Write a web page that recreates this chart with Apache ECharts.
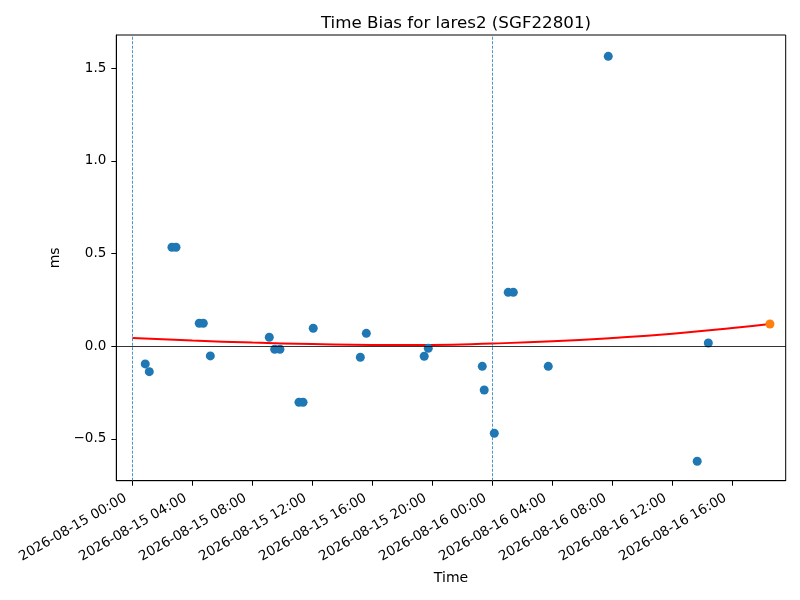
<!DOCTYPE html>
<html>
<head>
<meta charset="utf-8">
<script src="https://cdn.jsdelivr.net/npm/echarts@6/dist/echarts.min.js"></script>
<style>html,body{margin:0;padding:0;background:#fff;}#c{width:800px;height:600px;}</style>
</head>
<body>
<div id="c"></div>
<script>
// Hours since 2026-08-15 00:00 (UTC) and time bias in ms
var obsHours = [0.85, 1.12, 2.63, 2.90, 4.45, 4.72, 5.19, 9.12, 9.48, 9.83, 11.10, 11.37, 12.05, 15.19, 15.59, 19.45, 19.72, 23.32, 23.45, 24.12, 25.05, 25.39, 27.72, 31.72, 37.65, 38.39];
var obsBias  = [-0.095, -0.137, 0.534, 0.534, 0.124, 0.124, -0.052, 0.049, -0.016, -0.016, -0.302, -0.302, 0.097, -0.059, 0.070, -0.054, -0.011, -0.108, -0.236, -0.469, 0.291, 0.291, -0.108, 1.564, -0.620, 0.018];
var predHours = [42.5];
var predBias  = [0.120];
var fitHours = [0, 4, 8, 12, 16, 20, 24, 28, 32, 36, 40, 42.5];
var fitBias  = [0.045, 0.031, 0.020, 0.012, 0.007, 0.007, 0.015, 0.027, 0.045, 0.068, 0.098, 0.120];
var tickHours = [0, 4, 8, 12, 16, 20, 24, 28, 32, 36, 40];
var tickLabels = ['2026-08-15 00:00', '2026-08-15 04:00', '2026-08-15 08:00', '2026-08-15 12:00', '2026-08-15 16:00', '2026-08-15 20:00', '2026-08-16 00:00', '2026-08-16 04:00', '2026-08-16 08:00', '2026-08-16 12:00', '2026-08-16 16:00'];
var yTicks = [-0.5, 0, 0.5, 1.0, 1.5];
var yTickLabels = ['\u22120.5', '0.0', '0.5', '1.0', '1.5'];
var passHours = [0, 24];

function pairs(xs, ys) { return xs.map(function (x, i) { return [x, ys[i]]; }); }

var chart = echarts.init(document.getElementById('c'), null, {renderer: 'canvas'});
var font = 'DejaVu Sans';
chart.setOption({
  animation: false,
  backgroundColor: '#fff',
  title: {
    text: 'Time Bias for lares2 (SGF22801)',
    left: 451, top: 10, textAlign: 'center',
    textStyle: {fontFamily: font, fontSize: 16.7, fontWeight: 'normal', color: '#000'}
  },
  grid: {left: 116.3, right: 14.3, top: 35, bottom: 119.3, show: true, borderColor: '#000', borderWidth: 1, containLabel: false},
  xAxis: {
    type: 'value', min: -1.08, max: 43.55,
    name: 'Time', nameLocation: 'middle', nameGap: 91,
    nameTextStyle: {fontFamily: font, fontSize: 14, color: '#000'},
    axisLine: {show: true, onZero: false, lineStyle: {color: '#000', width: 1}},
    axisTick: {show: true, length: 5, inside: false, customValues: tickHours, lineStyle: {color: '#000', width: 1}},
    axisLabel: {
      customValues: tickHours, rotate: 30, margin: 12.5, padding: [0, 8, 0, 0],
      fontFamily: font, fontSize: 13.5, color: '#000',
      formatter: function (v) { var i = tickHours.indexOf(v); return i >= 0 ? tickLabels[i] : ''; }
    },
    splitLine: {show: false}
  },
  yAxis: {
    type: 'value', min: -0.725, max: 1.679,
    name: 'ms', nameLocation: 'middle', nameGap: 43, nameRotate: 90,
    nameTextStyle: {fontFamily: font, fontSize: 14, color: '#000'},
    axisLine: {show: true, onZero: false, lineStyle: {color: '#000', width: 1}},
    axisTick: {show: true, length: 5, inside: false, customValues: yTicks, lineStyle: {color: '#000', width: 1}},
    axisLabel: {
      customValues: yTicks, margin: 10,
      fontFamily: font, fontSize: 13.5, color: '#000',
      formatter: function (v) { for (var i = 0; i < yTicks.length; i++) { if (Math.abs(yTicks[i] - v) < 1e-9) return yTickLabels[i]; } return ''; }
    },
    splitLine: {show: false}
  },
  series: [
    {
      type: 'line', data: [], silent: true,
      markLine: {
        silent: true, symbol: 'none', animation: false,
        label: {show: false},
        data: [
          {yAxis: 0, lineStyle: {color: '#000', width: 0.8, type: 'solid'}}
        ].concat(passHours.map(function (h) {
          return {xAxis: h, lineStyle: {color: '#1f77b4', width: 0.8, type: [3, 1.5]}};
        }))
      },
      z: 1
    },
    {
      name: 'fit', type: 'line', data: pairs(fitHours, fitBias), smooth: true,
      showSymbol: false, symbol: 'none',
      lineStyle: {color: '#ff0000', width: 2}, z: 2
    },
    {
      name: 'observed', type: 'scatter', data: pairs(obsHours, obsBias),
      symbolSize: 9, itemStyle: {color: '#1f77b4', opacity: 1}, z: 3
    },
    {
      name: 'predicted', type: 'scatter', data: pairs(predHours, predBias),
      symbolSize: 9, itemStyle: {color: '#ff7f0e', opacity: 1}, z: 4
    }
  ]
});
</script>
</body>
</html>
